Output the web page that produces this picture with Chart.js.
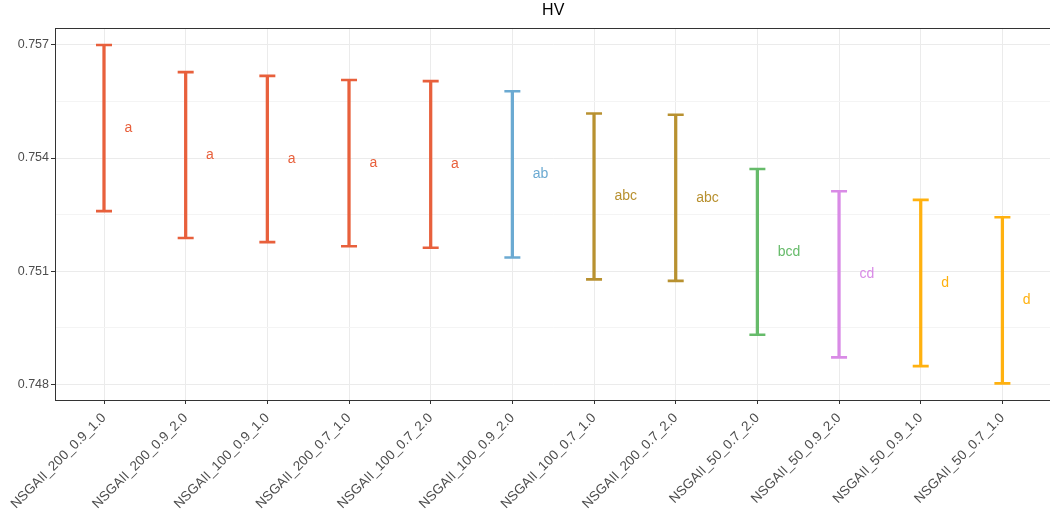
<!DOCTYPE html>
<html>
<head>
<meta charset="utf-8">
<script src="https://cdn.jsdelivr.net/npm/chart.js@4.4.1/dist/chart.umd.min.js"></script>
<style>
  html, body { margin: 0; padding: 0; background: #ffffff; overflow: hidden; }
  #wrap { width: 1050px; height: 520px; overflow: hidden; }
</style>
</head>
<body>
<div id="wrap"><canvas id="hvChart" width="1062" height="520"></canvas></div>
<script>
// Configuraciones ordenadas por HV
var categories = [
    'NSGAII_200_0.9_1.0', 'NSGAII_200_0.9_2.0', 'NSGAII_100_0.9_1.0', 'NSGAII_200_0.7_1.0',
    'NSGAII_100_0.7_2.0', 'NSGAII_100_0.9_2.0', 'NSGAII_100_0.7_1.0', 'NSGAII_200_0.7_2.0',
    'NSGAII_50_0.7_2.0', 'NSGAII_50_0.9_2.0', 'NSGAII_50_0.9_1.0', 'NSGAII_50_0.7_1.0'
];
var hvLow  = [0.75259, 0.75188, 0.75177, 0.75166, 0.75162, 0.75136, 0.75078, 0.75074, 0.74931, 0.74871, 0.74848, 0.74802];
var hvHigh = [0.75700, 0.75628, 0.75618, 0.75607, 0.75604, 0.75577, 0.75518, 0.75515, 0.75371, 0.75312, 0.75289, 0.75243];
// Grupos del test (letras)
var groups = ['a', 'a', 'a', 'a', 'a', 'ab', 'abc', 'abc', 'bcd', 'cd', 'd', 'd'];
var yMajor = [0.748, 0.751, 0.754, 0.757];
var yMinor = [0.7495, 0.7525, 0.7555];

var groupColors = {
    'a': '#E8603C',
    'ab': '#6BAAD2',
    'abc': '#B89130',
    'bcd': '#66BB6A',
    'cd': '#D98BE6',
    'd': '#FFB10F'
};
var barColors = groups.map(function(g) { return groupColors[g]; });
var fontFamily = "'Liberation Sans', Arial, sans-serif";

// Borde del panel, letras de grupo y título
var panelPlugin = {
    id: 'panelExtras',
    afterDraw: function(chart) {
        var ctx = chart.ctx, a = chart.chartArea;
        var x = chart.scales.x, y = chart.scales.y;
        ctx.save();
        ctx.strokeStyle = '#333333';
        ctx.lineWidth = 1;
        ctx.strokeRect(Math.round(a.left) + 0.5, Math.round(a.top) + 0.5,
            Math.round(a.right - a.left), Math.round(a.bottom - a.top));

        var step = x.getPixelForValue(1) - x.getPixelForValue(0);
        ctx.font = '14px ' + fontFamily;
        ctx.textAlign = 'left';
        ctx.textBaseline = 'middle';
        categories.forEach(function(c, i) {
            ctx.fillStyle = barColors[i];
            ctx.fillText(groups[i], x.getPixelForValue(i) + 0.25 * step,
                y.getPixelForValue((hvLow[i] + hvHigh[i]) / 2));
        });

        ctx.fillStyle = '#000000';
        ctx.font = '16px ' + fontFamily;
        ctx.textAlign = 'center';
        ctx.fillText('HV', (a.left + a.right) / 2, 11);
        ctx.restore();
    }
};

var hvChart = new Chart(document.getElementById('hvChart'), {
    type: 'bar',
    data: {
        datasets: [{
            type: 'bar',
            data: categories.map(function(c, i) { return { x: i, y: [hvLow[i], hvHigh[i]] }; }),
            backgroundColor: barColors,
            borderWidth: 0,
            barThickness: 2.6
        }, {
            type: 'line',
            data: categories.map(function(c, i) { return { x: i, y: hvHigh[i] }; }),
            showLine: false,
            pointStyle: 'line',
            pointRadius: 8,
            pointHoverRadius: 8,
            pointBorderWidth: 2.6,
            pointBorderColor: barColors
        }, {
            type: 'line',
            data: categories.map(function(c, i) { return { x: i, y: hvLow[i] }; }),
            showLine: false,
            pointStyle: 'line',
            pointRadius: 8,
            pointHoverRadius: 8,
            pointBorderWidth: 2.6,
            pointBorderColor: barColors
        }]
    },
    options: {
        responsive: false,
        animation: false,
        events: [],
        layout: { padding: { top: 28, left: 0, right: 2, bottom: 0 } },
        plugins: {
            legend: { display: false },
            tooltip: { enabled: false },
            title: { display: false }
        },
        scales: {
            x: {
                type: 'linear',
                min: -0.6,
                max: 11.6,
                offset: false,
                afterBuildTicks: function(scale) {
                    scale.ticks = categories.map(function(c, i) { return { value: i }; });
                },
                afterFit: function(scale) { scale.height = 120; },
                border: { display: false },
                grid: {
                    offset: false,
                    color: '#EBEBEB',
                    lineWidth: 1,
                    tickColor: '#333333',
                    tickLength: 4
                },
                ticks: {
                    autoSkip: false,
                    minRotation: 45,
                    maxRotation: 45,
                    padding: 6,
                    color: '#4D4D4D',
                    font: { family: fontFamily, size: 13.5 },
                    callback: function(value) { return categories[value]; }
                }
            },
            y: {
                type: 'linear',
                min: 0.74758,
                max: 0.75745,
                afterBuildTicks: function(scale) {
                    var t = yMajor.map(function(v) { return { value: v, minor: false }; })
                        .concat(yMinor.map(function(v) { return { value: v, minor: true }; }));
                    t.sort(function(p, q) { return p.value - q.value; });
                    scale.ticks = t;
                },
                afterFit: function(scale) { scale.width = 55; },
                border: { display: false },
                grid: {
                    color: function(ctx) { return ctx.tick && ctx.tick.minor ? '#F4F4F4' : '#EBEBEB'; },
                    lineWidth: 1,
                    tickColor: function(ctx) { return ctx.tick && ctx.tick.minor ? 'rgba(0,0,0,0)' : '#333333'; },
                    tickLength: 4
                },
                ticks: {
                    autoSkip: false,
                    padding: 2,
                    color: '#4D4D4D',
                    font: { family: fontFamily, size: 12.5 },
                    callback: function(value, index, ticks) {
                        return ticks[index].minor ? '' : value.toFixed(3);
                    }
                }
            }
        }
    },
    plugins: [panelPlugin]
});
</script>
</body>
</html>
